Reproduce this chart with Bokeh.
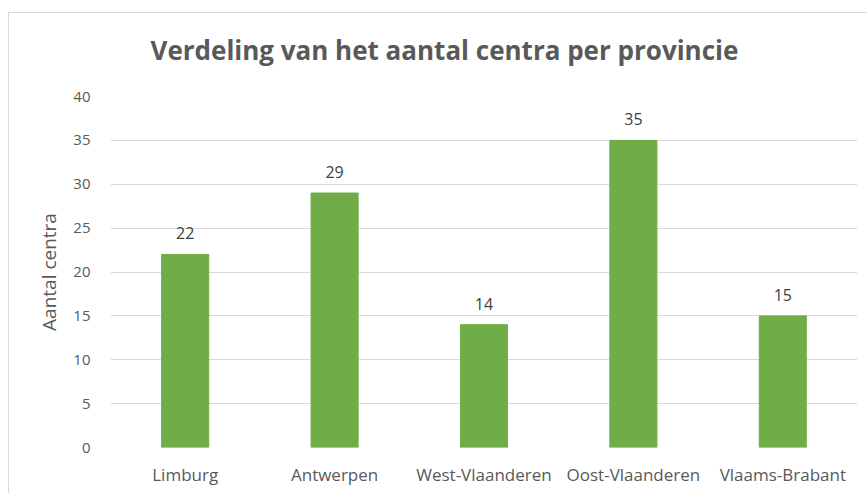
from bokeh.plotting import figure
from bokeh.models import Range1d, ColumnDataSource
from bokeh.core.properties import value
from bokeh.embed import file_html
from bokeh.resources import INLINE

provinces = ["Limburg", "Antwerpen", "West-Vlaanderen", "Oost-Vlaanderen", "Vlaams-Brabant"]
centra = [22, 29, 14, 35, 15]
y_ticks = [0, 5, 10, 15, 20, 25, 30, 35, 40]

FONT = "Open Sans"
GREY = "#595959"
BORDER = "#d9d9d9"

src = ColumnDataSource(dict(x=provinces, y=centra, label=[str(v) for v in centra]))

p = figure(x_range=provinces, y_range=Range1d(0, 40), width=867, height=493,
           output_backend="svg", toolbar_location=None,
           min_border_left=110, min_border_right=10, min_border_top=96, min_border_bottom=46)
# chart-area border (top and left edges visible, as in the reference)
p.border_fill_color = None
p.styles = {
    "background-color": "white",
    "background-image": f"linear-gradient({BORDER}, {BORDER}), linear-gradient({BORDER}, {BORDER})",
    "background-repeat": "no-repeat",
    "background-position": "8px 12px, 8px 12px",
    "background-size": "100% 1px, 1px 100%",
}

p.vbar(x="x", top="y", width=0.315, source=src, color="#70AD47")
p.text(x="x", y="y", text="label", source=src, text_align="center", text_baseline="middle",
       y_offset=-21, text_font=value(FONT), text_font_size="16px", text_color="#404040")

p.title.text = "Verdeling van het aantal centra per provincie"
p.title.text_font = FONT
p.title.text_font_size = "26px"
p.title.text_font_style = "bold"
p.title.text_color = GREY
p.title.align = "left"
p.title.offset = 40
p.title.standoff = 58

p.outline_line_color = None
p.xgrid.grid_line_color = None
p.ygrid.grid_line_color = "#D9D9D9"
p.ygrid.grid_line_width = 1

p.yaxis.ticker = y_ticks
p.yaxis.axis_label = "Aantal centra"
p.yaxis.axis_label_text_font = FONT
p.yaxis.axis_label_text_font_size = "19px"
p.yaxis.axis_label_text_font_style = "normal"
p.yaxis.axis_label_text_color = GREY
p.yaxis.axis_label_standoff = 8

for ax in (p.xaxis, p.yaxis):
    ax.axis_line_color = None
    ax.major_tick_line_color = None
    ax.minor_tick_line_color = None
    ax.major_tick_out = 0
    ax.major_tick_in = 0
    ax.major_label_text_font = FONT
    ax.major_label_text_color = GREY

p.yaxis.major_label_text_font_size = "15px"
p.xaxis.major_label_text_font_size = "17px"
p.yaxis.major_label_standoff = 20
p.xaxis.major_label_standoff = 15

open("out.html", "w").write(file_html(p, INLINE))
